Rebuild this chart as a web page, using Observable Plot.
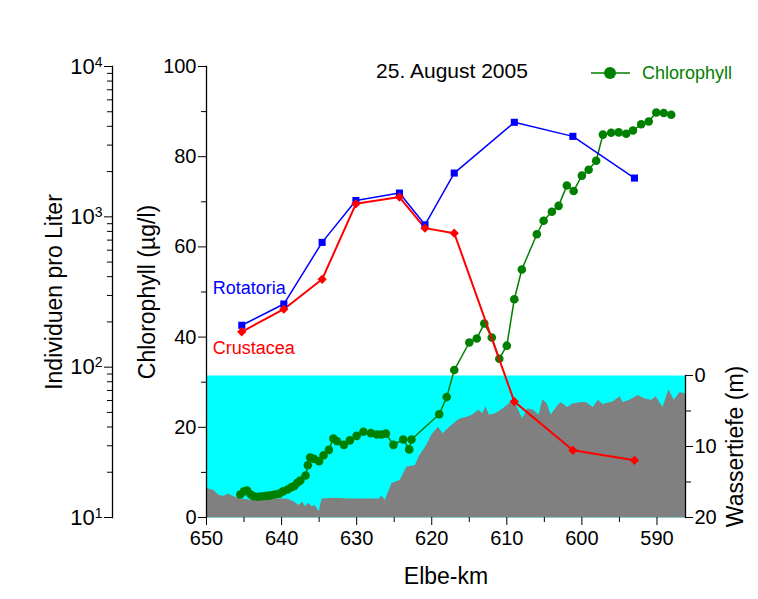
<!DOCTYPE html>
<html>
<head>
<meta charset="utf-8">
<script src="https://cdn.jsdelivr.net/npm/d3@7"></script>
<script src="https://cdn.jsdelivr.net/npm/@observablehq/plot@0.6"></script>
<style>
  body { margin: 0; background: white; }
  #chart { position: relative; width: 758px; height: 599px; font-family: "Liberation Sans", Arial, sans-serif; }
  #chart > svg { position: absolute; left: 0; top: 0; }
</style>
</head>
<body>
<div id="chart"></div>
<script>
// ---- data ----
const xDomain = [650, 586.2];
const xTicks = [650, 640, 630, 620, 610, 600, 590];
const xMinorTicks = [645, 635, 625, 615, 605, 595];
const chlTicks = [0, 20, 40, 60, 80, 100];
const chlMinorTicks = [10, 30, 50, 70, 90];
const depthTicks = [0, 10, 20];
const depthMinorTicks = [5, 15];
const logTicks = [10, 100, 1000, 10000];

// plankton stations (Elbe-km) and Individuen pro Liter
const stationKm = [645.3, 639.7, 634.6, 630.1, 624.3, 620.9, 617.0, 609.0, 601.2, 593.0];
const rotatoria = [190, 263, 676, 1284, 1439, 885, 1955, 4254, 3430, 1811];
const crustacea = [172, 243, 384, 1221, 1353, 841, 778, 59, 28, 24];

// chlorophyll (µg/l)
const chlKm = [645.5, 645.0, 644.6, 644.1, 643.7, 643.1, 642.6, 642.0, 641.5, 640.9,
  640.3, 639.8, 639.2, 638.7, 638.3, 637.9, 637.5, 636.8, 636.5, 636.2,
  635.7, 635.0, 634.4, 633.7, 633.1, 632.6, 631.7, 630.9, 630.0, 629.1,
  628.1, 627.3, 626.7, 626.1, 625.1, 623.8, 623.0, 622.7, 619.0, 618.0,
  617.0, 615.0, 614.0, 613.0, 612.0, 611.0, 610.0, 609.0, 608.0, 606.0,
  605.1, 604.0, 603.1, 602.0, 601.1, 600.0, 599.1, 598.1, 597.2, 596.1,
  595.1, 594.1, 593.2, 592.1, 591.1, 590.1, 589.1, 588.1];
const chlValues = [5.1, 5.8, 6.0, 5.1, 4.7, 4.6, 4.7, 4.8, 4.9, 5.1,
  5.3, 5.8, 6.2, 6.7, 7.0, 7.7, 8.2, 9.3, 11.6, 13.3,
  13.0, 12.5, 13.8, 15.0, 17.5, 16.9, 16.1, 17.1, 18.1, 19.0,
  18.7, 18.4, 18.4, 18.6, 16.1, 17.3, 15.1, 17.3, 22.9, 26.7,
  32.7, 38.8, 39.7, 43.0, 39.9, 35.2, 38.1, 48.4, 55.0, 62.8,
  65.8, 67.8, 69.1, 73.6, 72.4, 75.8, 77.1, 79.1, 84.9, 85.3,
  85.4, 85.1, 85.8, 87.2, 87.8, 89.8, 89.7, 89.3];

// Wassertiefe (m) profile
const depthKm = [650.0, 649.0, 648.3, 647.7, 647.0, 646.3, 645.4, 643.7, 641.5, 639.2,
  638.3, 637.7, 637.2, 636.8, 636.4, 635.9, 635.5, 635.0, 634.6, 633.0,
  630.9, 628.2, 626.9, 626.7, 626.2, 625.3, 624.2, 623.3, 622.2, 621.6,
  620.7, 620.0, 619.1, 618.5, 617.6, 616.5, 616.1, 615.4, 614.6, 613.7,
  613.2, 612.8, 612.3, 611.5, 610.6, 609.9, 609.2, 608.6, 607.9, 607.2,
  606.4, 605.7, 605.2, 604.6, 604.1, 603.5, 602.8, 601.9, 601.2, 600.1,
  599.4, 598.5, 597.8, 597.2, 595.8, 594.9, 594.5, 593.6, 592.5, 591.6,
  590.7, 590.1, 589.2, 588.4, 587.7, 586.9, 586.2];
const depthValues = [15.9, 16.2, 16.9, 17.0, 16.7, 17.1, 17.4, 17.6, 17.4, 17.4,
  17.8, 18.3, 17.8, 18.5, 18.0, 18.5, 18.3, 19.2, 17.4, 17.3,
  17.4, 17.4, 17.4, 16.9, 17.6, 15.2, 14.8, 12.9, 12.7, 11.3,
  9.9, 8.4, 7.3, 8.2, 7.3, 6.3, 6.1, 5.9, 5.6, 4.9,
  5.4, 4.4, 5.6, 5.4, 4.8, 4.2, 3.5, 4.5, 6.1, 4.7,
  4.9, 5.6, 3.4, 4.0, 5.6, 4.7, 3.8, 4.5, 4.0, 3.8,
  3.8, 4.5, 3.5, 4.1, 3.7, 3.0, 3.8, 3.5, 2.8, 3.3,
  3.5, 3.0, 4.5, 2.0, 3.5, 2.4, 2.6];

// ---- tables ----
const stations = stationKm.map((km, i) => ({km, rot: rotatoria[i], cru: crustacea[i]}));
const chl = chlKm.map((km, i) => ({km, v: chlValues[i]}));
const depth = depthKm.map((km, i) => ({km, d: depthValues[i]}));

const W = 758, H = 599;
const FONT = "'Liberation Sans', Arial, sans-serif";
const baseStyle = {background: "none", fontFamily: FONT, fontSize: "20px", overflow: "visible"};
const GREEN = "#008000";
const titleOpts = {textAnchor: "middle", lineAnchor: "middle", fontSize: 23};

// ---- layer 1: water depth ----
const depthPlot = Plot.plot({
  width: W, height: H,
  marginLeft: 206, marginRight: 73, marginTop: 375, marginBottom: 82,
  style: baseStyle,
  x: {domain: xDomain, axis: null},
  y: {domain: [20, 0], axis: null},
  marks: [
    Plot.frame({fill: "#00ffff", stroke: null}),
    Plot.areaY(depth, {x: "km", y1: "d", y2: () => 20, fill: "#808080"}),
    Plot.ruleY([20], {stroke: "#88cccc", strokeWidth: 1}),
    Plot.frame({anchor: "right", stroke: "black", strokeWidth: 1.3}),
    Plot.axisY({anchor: "right", ticks: depthTicks, tickSize: 7, tickPadding: 2, label: null, fontSize: 20}),
    Plot.axisY({anchor: "right", ticks: depthMinorTicks, tickSize: 5, tickFormat: () => "", label: null}),
    Plot.text(["Wassertiefe (m)"], {frameAnchor: "right", dx: 50, rotate: -90, ...titleOpts})
  ]
});

// ---- layer 2: chlorophyll ----
const chlPlot = Plot.plot({
  width: W, height: H,
  marginLeft: 206, marginRight: 73, marginTop: 66, marginBottom: 82,
  style: baseStyle,
  x: {domain: xDomain},
  y: {domain: [0, 100]},
  marks: [
    Plot.line(chl, {x: "km", y: "v", stroke: GREEN, strokeWidth: 1.5}),
    Plot.dot(chl, {x: "km", y: "v", r: 4.3, fill: GREEN}),
    Plot.frame({anchor: "left", stroke: "black", strokeWidth: 1.3}),
    Plot.axisY({anchor: "left", ticks: chlTicks, tickSize: 8, tickPadding: 2, label: null, fontSize: 20}),
    Plot.axisY({anchor: "left", ticks: chlMinorTicks, tickSize: 5, tickFormat: () => "", label: null}),
    Plot.axisX({anchor: "bottom", ticks: xTicks, tickSize: 8, tickPadding: 5, label: null, fontSize: 20}),
    Plot.axisX({anchor: "bottom", ticks: xMinorTicks, tickSize: 5, tickFormat: () => "", label: null}),
    Plot.text(["Chlorophyll (µg/l)"], {frameAnchor: "left", dx: -59, rotate: -90, ...titleOpts}),
    Plot.text(["Elbe-km"], {frameAnchor: "bottom", dy: 59, ...titleOpts}),
    Plot.text(["25. August 2005"], {frameAnchor: "top", dx: 6, dy: 5, ...titleOpts, fontSize: 21})
  ]
});

// ---- layer 3: Individuen pro Liter (log) ----
const logPlot = Plot.plot({
  width: W, height: H,
  marginLeft: 112, marginRight: 73, marginTop: 66, marginBottom: 82,
  style: baseStyle,
  x: {domain: xDomain, range: [206, 685], axis: null},
  y: {type: "log", domain: [10, 10000]},
  marks: [
    Plot.line(stations, {x: "km", y: "rot", stroke: "#0000ff", strokeWidth: 1.5}),
    Plot.line(stations, {x: "km", y: "cru", stroke: "#ff0000", strokeWidth: 2}),
    Plot.dot(stations, {x: "km", y: "rot", symbol: "square", r: 4, fill: "#0000ff"}),
    Plot.dot(stations, {x: "km", y: "cru", symbol: "square", r: 3.7, rotate: 45, fill: "#ff0000"}),
    Plot.text(stations.slice(0, 1), {x: "km", y: "rot", text: () => "Rotatoria", dx: -29, dy: -37, textAnchor: "start", fill: "#0000ff", fontSize: 18}),
    Plot.text(stations.slice(0, 1), {x: "km", y: "cru", text: () => "Crustacea", dx: -29, dy: 16, textAnchor: "start", fill: "#ff0000", fontSize: 18}),
    Plot.frame({anchor: "left", stroke: "black", strokeWidth: 1.3}),
    Plot.axisY({anchor: "left", ticks: logTicks, tickSize: 8, tickPadding: 2, label: null, fontSize: 22,
      tickFormat: d => String(Math.round(Math.log10(d)))}),
    Plot.axisY({anchor: "left", ticks: d3.range(1, 4).flatMap(e => d3.range(2, 10).map(m => m * 10 ** e)),
      tickSize: 5, tickFormat: () => "", label: null}),
    Plot.text(["Individuen pro Liter"], {frameAnchor: "left", dx: -58, rotate: -90, ...titleOpts})
  ]
});

// superscript exponents on the log axis labels
d3.select(logPlot).selectAll('g[aria-label="y-axis tick label"] text').each(function () {
  const e = this.textContent;
  if (!e) return;
  const t = d3.select(this);
  t.text("");
  t.append("tspan").text("10");
  t.append("tspan").attr("font-size", 14).attr("dy", "-0.5em").text(e);
});

const chart = document.getElementById("chart");
chart.append(depthPlot, chlPlot, logPlot);

// legend (top right)
const legend = d3.create("svg").attr("width", W).attr("height", 100)
  .style("font-family", FONT);
legend.append("line").attr("x1", 591).attr("x2", 630).attr("y1", 73).attr("y2", 73)
  .attr("stroke", GREEN).attr("stroke-width", 1.5);
legend.append("circle").attr("cx", 610).attr("cy", 73).attr("r", 6).attr("fill", GREEN);
legend.append("text").attr("x", 642).attr("y", 73).attr("dy", "0.35em")
  .attr("fill", GREEN).attr("font-size", 18).text("Chlorophyll");
chart.append(legend.node());
</script>
</body>
</html>
